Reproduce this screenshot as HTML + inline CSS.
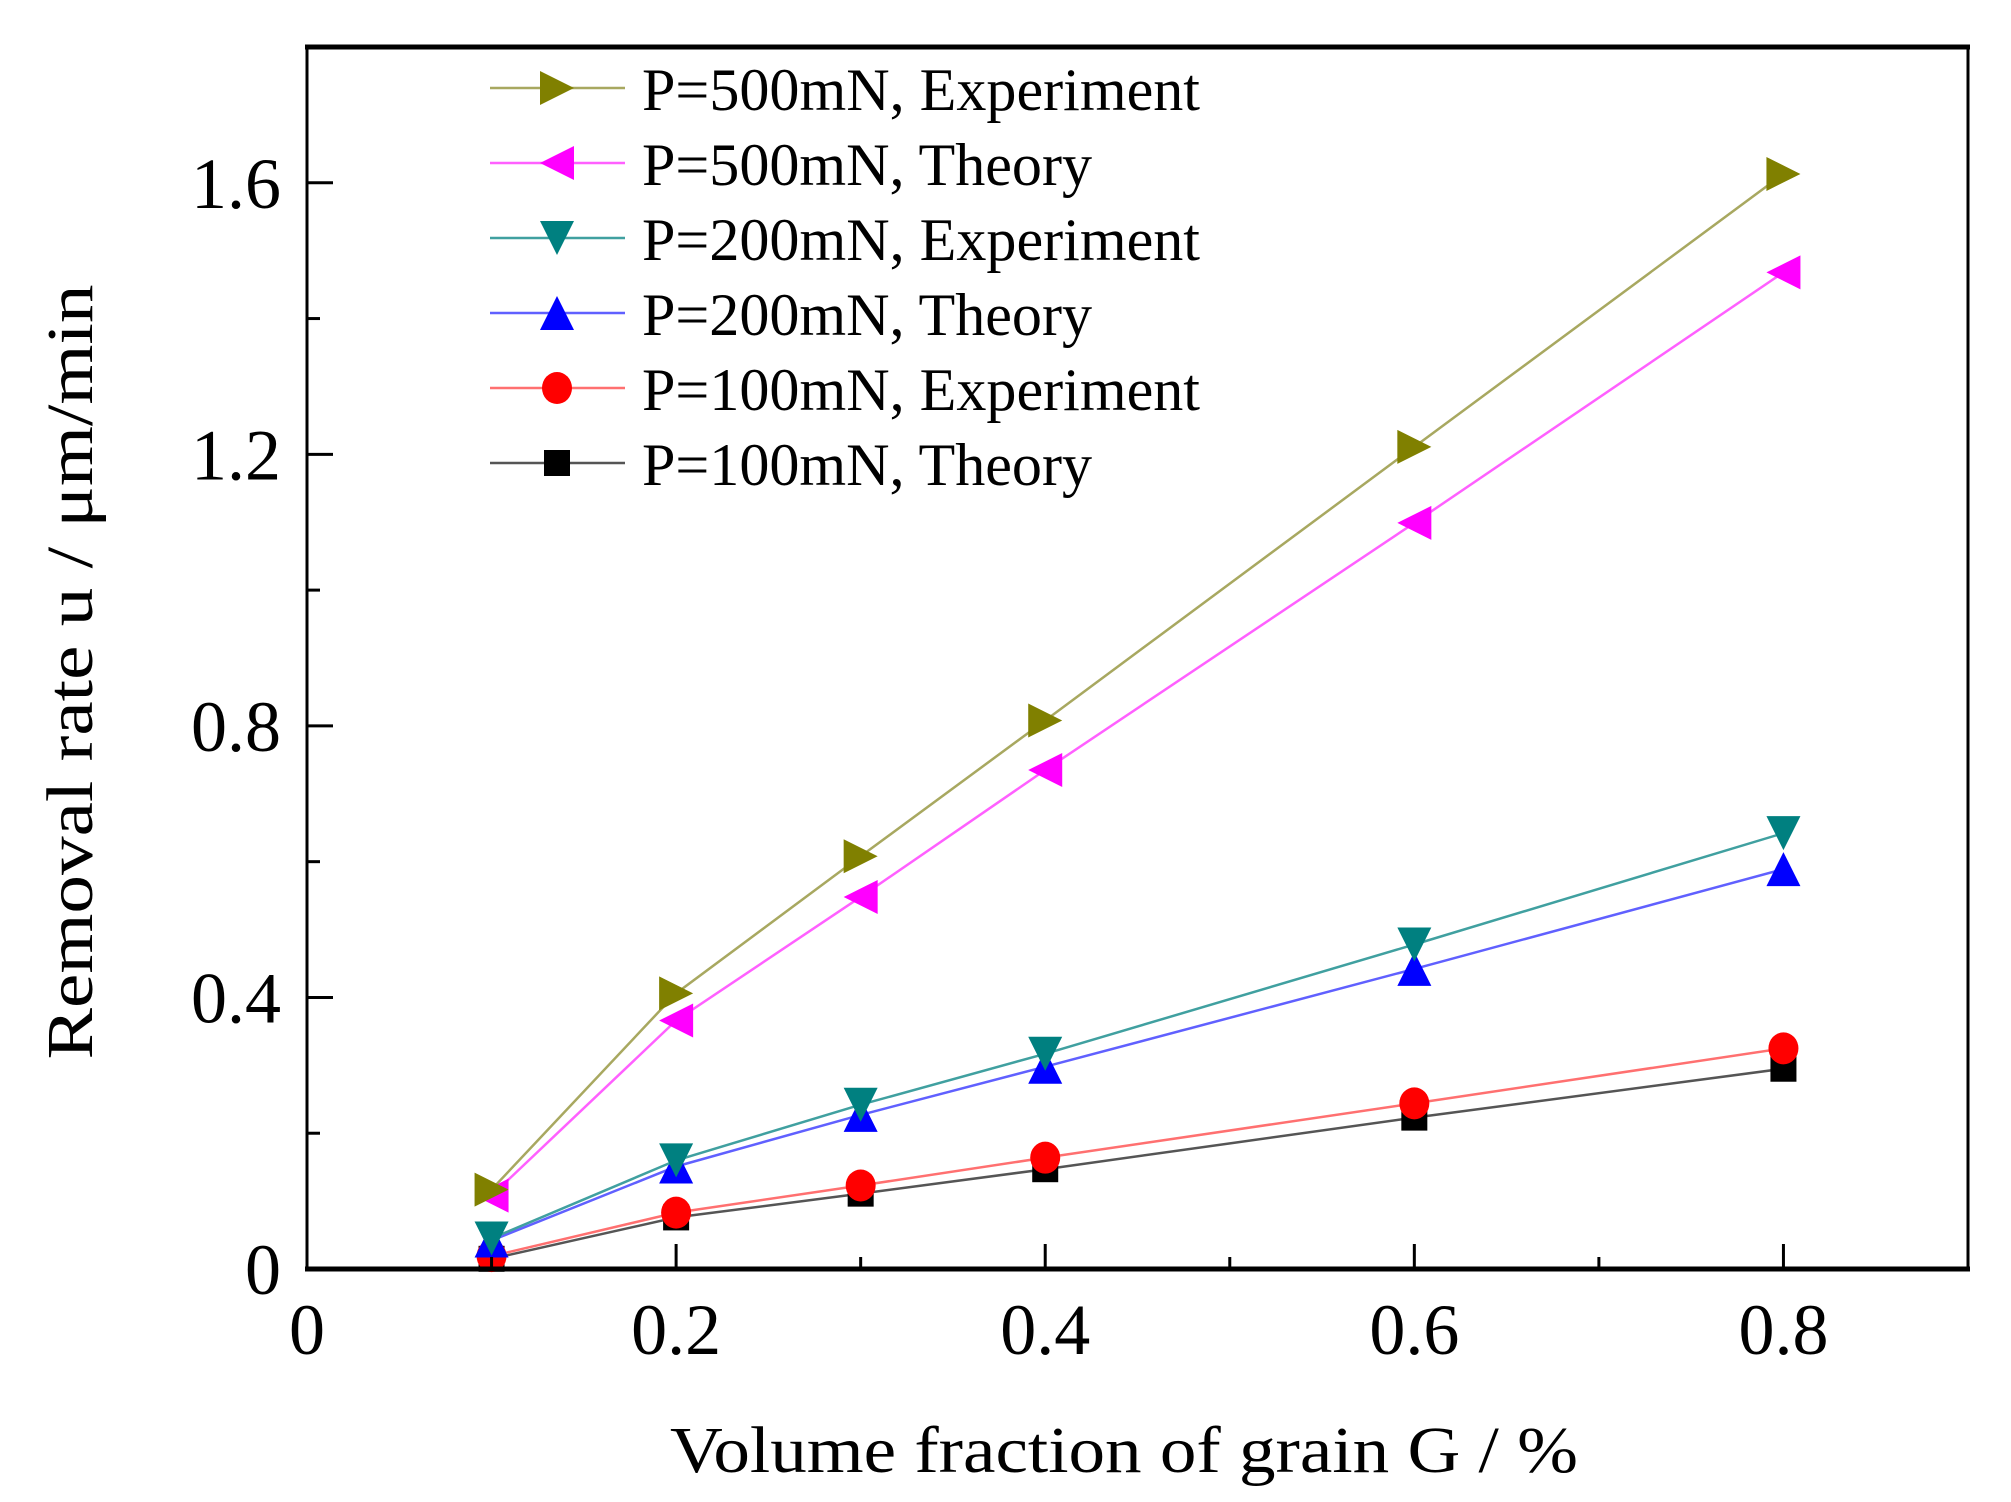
<!DOCTYPE html>
<html><head><meta charset="utf-8"><style>
html,body{margin:0;padding:0;background:#fff;}
svg{display:block;font-family:"Liberation Serif",serif;}
</style></head><body>
<svg id="chart" width="2011" height="1502" viewBox="0 0 2011 1502">
<g id="plot"></g>
</svg>
<script>
const xValues=[0.1,0.2,0.3,0.4,0.6,0.8];
const seriesNames=["P=500mN, Experiment","P=500mN, Theory","P=200mN, Experiment","P=200mN, Theory","P=100mN, Experiment","P=100mN, Theory"];
const s500exp=[0.117,0.406,0.608,0.808,1.211,1.613];
const s500th=[0.108,0.366,0.548,0.735,1.099,1.468];
const s200exp=[0.045,0.160,0.242,0.317,0.478,0.642];
const s200th=[0.042,0.151,0.227,0.298,0.442,0.589];
const s100exp=[0.019,0.083,0.123,0.164,0.244,0.325];
const s100th=[0.015,0.076,0.111,0.147,0.223,0.295];
const xTicks=[0,0.2,0.4,0.6,0.8];
const xTickLabels=["0","0.2","0.4","0.6","0.8"];
const yTicks=[0,0.4,0.8,1.2,1.6];
const yTickLabels=["0","0.4","0.8","1.2","1.6"];

const L=307,R=1968,T=47,B=1269,XMAX=0.9,YMAX=1.8;
const xs=v=>L+v/XMAX*(R-L);
const ys=v=>B-v/YMAX*(B-T);
const NS="http://www.w3.org/2000/svg";
const g=document.getElementById('plot');
function mk(tag,attrs,parent){const e=document.createElementNS(NS,tag);for(const k in attrs)e.setAttribute(k,attrs[k]);(parent||g).appendChild(e);return e;}

const styles=[
 {c:"#808000",m:"right",lc:"#a8a860"},
 {c:"#ff00ff",m:"left",lc:"#ff60ff"},
 {c:"#008080",m:"down",lc:"#40a0a0"},
 {c:"#0000ff",m:"up",lc:"#6060ff"},
 {c:"#ff0000",m:"circle",lc:"#ff7070"},
 {c:"#000000",m:"square",lc:"#555555"}];
const allSeries=[s500exp,s500th,s200exp,s200th,s100exp,s100th];

function marker(type,x,y,color,parent){
 const s=17;let e;
 if(type==="right")e=mk('polygon',{points:`${x-s},${y-s} ${x+s},${y} ${x-s},${y+s}`,fill:color},parent);
 else if(type==="left")e=mk('polygon',{points:`${x+s},${y-s} ${x-s},${y} ${x+s},${y+s}`,fill:color},parent);
 else if(type==="down")e=mk('polygon',{points:`${x-s},${y-s} ${x+s},${y-s} ${x},${y+s}`,fill:color},parent);
 else if(type==="up")e=mk('polygon',{points:`${x-s},${y+s} ${x+s},${y+s} ${x},${y-s}`,fill:color},parent);
 else if(type==="circle")e=mk('ellipse',{cx:x,cy:y,rx:15,ry:16,fill:color},parent);
 else e=mk('rect',{x:x-13,y:y-13,width:26,height:26,fill:color},parent);
 return e;
}

for(let i=allSeries.length-1;i>=0;i--){
 const sg=mk('g',{});
 
 
 const pts=xValues.map((x,j)=>xs(x)+','+ys(allSeries[i][j])).join(' ');
 const pl=mk('polyline',{points:pts,fill:'none',stroke:styles[i].lc,'stroke-width':2.5},sg);
 
 
 xValues.forEach((x,j)=>{
  const m=marker(styles[i].m,xs(x),ys(allSeries[i][j]),styles[i].c,sg);
  
  
 });
}

const fr=mk('rect',{x:L,y:T,width:R-L,height:B-T,fill:'none',stroke:'#000','stroke-width':3});


const xa=mk('line',{x1:L-2,y1:B,x2:R+2,y2:B,stroke:'#000','stroke-width':5});


const tl=mk('line',{x1:L-2,y1:T,x2:R+2,y2:T,stroke:'#000','stroke-width':5});



for(let k=1;k<9;k++){
 const v=k*0.1;const major=k%2===0;
 const t=mk('line',{x1:xs(v),y1:B,x2:xs(v),y2:B-(major?25:12),stroke:'#000','stroke-width':3});
 
 
}
xTicks.forEach((v,i)=>{
 const t=mk('text',{x:xs(v),y:1354,'font-size':72,'text-anchor':'middle'});
 t.textContent=xTickLabels[i];
 
 
});
for(let k=1;k<9;k++){
 const v=k*0.2;const major=k%2===0;
 const t=mk('line',{x1:L,y1:ys(v),x2:L+(major?26:13),y2:ys(v),stroke:'#000','stroke-width':3});
 
 
}
yTicks.forEach((v,i)=>{
 const t=mk('text',{x:281,y:ys(v)+25,'font-size':72,'text-anchor':'end'});
 t.textContent=yTickLabels[i];
 
 
});

const xt=mk('text',{x:670,y:1472,'font-size':66,textLength:908,lengthAdjust:'spacingAndGlyphs'});
xt.textContent="Volume fraction of grain G  / %";


const yt=mk('text',{x:0,y:0,'font-size':66,textLength:775,lengthAdjust:'spacingAndGlyphs','text-anchor':'middle',transform:'translate(92,672) rotate(-90)'});
yt.textContent="Removal rate  u /    \u03bcm/min";



const lg=mk('g',{});


const legY=[88,163,238,313,388,463];
seriesNames.forEach((n,i)=>{
 const eg=mk('g',{},lg);
 
 
 const y=legY[i];
 mk('line',{x1:490,y1:y,x2:625,y2:y,stroke:styles[i].lc,'stroke-width':2.5},eg);
 marker(styles[i].m,557,y,styles[i].c,eg);
 const t=mk('text',{x:642,y:y+22,'font-size':60,textLength:(n.indexOf('Experiment')>0?558:450),lengthAdjust:'spacingAndGlyphs'},eg);
 t.textContent=n;
});
</script>
</body></html>
